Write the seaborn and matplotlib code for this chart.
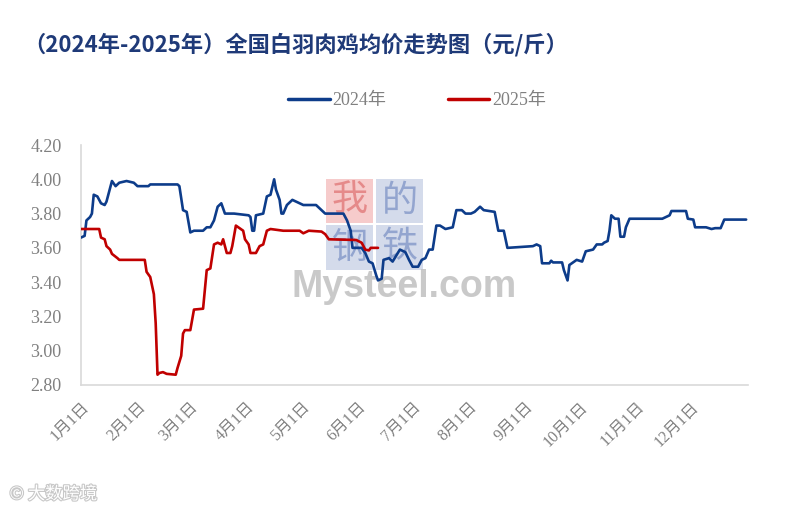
import pandas as pd
import seaborn as sns
import matplotlib.pyplot as plt
import matplotlib.patheffects as pe
from matplotlib.patches import Rectangle

# 2024 white-feather broiler price (yuan/jin)
dates_2024 = ["01-01", "01-03", "01-04", "01-06", "01-07", "01-08", "01-10", "01-12", "01-14", "01-15",
              "01-16", "01-18", "01-20", "01-22", "01-26", "01-30", "02-01", "02-07", "02-08", "02-23",
              "02-24", "02-26", "02-28", "03-01", "03-03", "03-08", "03-10", "03-12", "03-14", "03-16",
              "03-18", "03-20", "03-25", "04-02", "04-03", "04-04", "04-05", "04-06", "04-10", "04-12",
              "04-14", "04-16", "04-17", "04-19", "04-20", "04-21", "04-23", "04-26", "04-30", "05-02",
              "05-09", "05-12", "05-14", "05-24", "05-26", "05-28", "05-29", "06-03", "06-05", "06-07",
              "06-09", "06-11", "06-12", "06-14", "06-15", "06-18", "06-20", "06-24", "06-27", "06-29",
              "07-01", "07-04", "07-06", "07-08", "07-10", "07-12", "07-14", "07-16", "07-19", "07-23",
              "07-25", "07-28", "07-30", "08-02", "08-04", "08-07", "08-09", "08-15", "08-17", "08-20",
              "08-22", "09-05", "09-07", "09-09", "09-10", "09-14", "09-15", "09-16", "09-21", "09-22",
              "09-24", "09-25", "09-29", "10-02", "10-04", "10-08", "10-10", "10-13", "10-14", "10-16",
              "10-17", "10-18", "10-20", "10-22", "10-23", "10-25", "10-26", "10-28", "11-15", "11-17",
              "11-19", "11-20", "11-28", "11-29", "12-02", "12-03", "12-09", "12-12", "12-14", "12-17",
              "12-18", "12-19", "12-31"]
price_2024 = [3.66, 3.67, 3.76, 3.78, 3.80, 3.91, 3.90, 3.86, 3.85, 3.87,
              3.91, 3.99, 3.96, 3.98, 3.99, 3.98, 3.96, 3.96, 3.97, 3.97,
              3.96, 3.82, 3.81, 3.69, 3.70, 3.70, 3.72, 3.72, 3.76, 3.84,
              3.86, 3.80, 3.80, 3.79, 3.78, 3.70, 3.70, 3.79, 3.80, 3.90,
              3.91, 4.00, 3.94, 3.88, 3.80, 3.80, 3.85, 3.88, 3.86, 3.85,
              3.85, 3.82, 3.80, 3.80, 3.76, 3.70, 3.60, 3.60, 3.57, 3.52,
              3.51, 3.44, 3.41, 3.42, 3.53, 3.54, 3.52, 3.59, 3.575, 3.53,
              3.49, 3.49, 3.53, 3.54, 3.59, 3.59, 3.73, 3.73, 3.71, 3.72,
              3.82, 3.82, 3.80, 3.80, 3.81, 3.84, 3.82, 3.81, 3.70, 3.70,
              3.60, 3.61, 3.62, 3.61, 3.51, 3.51, 3.525, 3.515, 3.515, 3.47,
              3.41, 3.50, 3.53, 3.52, 3.58, 3.59, 3.62, 3.62, 3.63, 3.64,
              3.70, 3.79, 3.77, 3.77, 3.665, 3.665, 3.72, 3.77, 3.77, 3.78,
              3.79, 3.815, 3.815, 3.77, 3.765, 3.72, 3.72, 3.71, 3.715, 3.715,
              3.74, 3.765, 3.765]

dates_2025 = ["01-01", "01-11", "01-12", "01-14", "01-15", "01-17", "01-18", "01-21", "01-22", "02-05",
              "02-06", "02-08", "02-10", "02-11", "02-12", "02-13", "02-15", "02-17", "02-22", "02-23",
              "02-25", "02-26", "02-27", "03-01", "03-02", "03-03", "03-08", "03-10", "03-12", "03-14",
              "03-16", "03-18", "03-19", "03-21", "03-23", "03-24", "03-26", "03-28", "03-30", "03-31",
              "04-02", "04-03", "04-06", "04-08", "04-10", "04-12", "04-14", "04-21", "04-30", "05-02",
              "05-05", "05-12", "05-14", "05-16", "05-31", "06-03", "06-05", "06-07", "06-08", "06-12"]
price_2025 = [3.71, 3.71, 3.66, 3.65, 3.61, 3.59, 3.565, 3.54, 3.53, 3.53,
              3.46, 3.43, 3.33, 3.16, 2.86, 2.87, 2.875, 2.865, 2.86, 2.90,
              2.97, 3.10, 3.12, 3.12, 3.18, 3.24, 3.245, 3.47, 3.48, 3.62,
              3.63, 3.62, 3.65, 3.57, 3.57, 3.61, 3.73, 3.715, 3.70, 3.65,
              3.62, 3.57, 3.57, 3.61, 3.62, 3.70, 3.71, 3.70, 3.70, 3.685,
              3.70, 3.695, 3.68, 3.65, 3.646, 3.63, 3.59, 3.585, 3.60, 3.60]

series_names = ["2024年", "2025年"]
tick_labels = [f"{m}月1日" for m in range(1, 13)]

# both years drawn on one shared calendar axis
df = pd.concat([
    pd.DataFrame({"date": pd.to_datetime(["2024-" + d for d in dates_2024]),
                  "price": price_2024, "year": series_names[0]}),
    pd.DataFrame({"date": pd.to_datetime(["2024-" + d for d in dates_2025]),
                  "price": price_2025, "year": series_names[1]}),
])

sns.set_style("white")
plt.rcParams["font.family"] = ["Liberation Serif", "Noto Sans CJK SC"]

fig = plt.figure(figsize=(7.9, 5.11), dpi=100)
ax = fig.add_axes([0.1025, 0.2466, 0.8443, 0.4696])

# Mysteel watermark
wm = [("我", 0, 1, "#f3b5b5", "#e58a8a"), ("的", 1, 1, "#c3cce3", "#93a5cf"),
      ("钢", 0, 0, "#c3cce3", "#93a5cf"), ("铁", 1, 0, "#c3cce3", "#93a5cf")]
for ch, cx, cy, bg, fg in wm:
    x0 = 0.368 + cx * 0.075
    y0 = 0.48 + cy * 0.195
    ax.add_patch(Rectangle((x0, y0), 0.07, 0.185, transform=ax.transAxes,
                           facecolor=bg, edgecolor="none", alpha=0.7, zorder=0))
    ax.text(x0 + 0.035, y0 + 0.093, ch, transform=ax.transAxes, ha="center", va="center",
            fontsize=26, color=fg, family=["Noto Sans CJK SC"], zorder=0.5)
ax.text(0.484, 0.41, "Mysteel.com", transform=ax.transAxes, ha="center", va="center",
        fontsize=27, fontweight="bold", color="#c4c4c4", alpha=0.9,
        family=["Liberation Sans"], zorder=0.6)

palette = {series_names[0]: "#0d3c8a", series_names[1]: "#c00000"}
sns.lineplot(data=df, x="date", y="price", hue="year", palette=palette,
             linewidth=1.9, ax=ax, legend=False, zorder=3)

ax.set_xlim(pd.Timestamp("2024-01-01"), pd.Timestamp("2025-01-01"))
ax.set_ylim(2.8, 4.2)
ax.set_yticks([2.8 + 0.2 * i for i in range(8)])
ax.yaxis.set_major_formatter(plt.FuncFormatter(lambda v, p: f"{v:.2f}"))
ax.set_xticks(pd.date_range("2024-01-01", "2025-01-01", freq="MS"))
ax.set_xticklabels(tick_labels + [""], rotation=45, ha="right", rotation_mode="anchor")
ax.tick_params(axis="x", colors="#d9d9d9", labelcolor="#808080", labelsize=11.5,
               length=5, width=1, direction="out", pad=5)
ax.tick_params(axis="y", colors="#d9d9d9", labelcolor="#808080", labelsize=13,
               length=3, width=1, direction="out", pad=11)
ax.set_xlabel("")
ax.set_ylabel("")
for s in ["top", "right"]:
    ax.spines[s].set_visible(False)
for s in ["left", "bottom"]:
    ax.spines[s].set_color("#d9d9d9")
    ax.spines[s].set_linewidth(1.2)

handles = [plt.Line2D([], [], color=palette[n], linewidth=2.5) for n in series_names]
fig.legend(handles, series_names, loc="center", bbox_to_anchor=(0.528, 0.803), ncol=2,
           frameon=False, fontsize=13, labelcolor="#808080", handlelength=2.3,
           handletextpad=0.15, columnspacing=3.4)

fig.text(0.03, 0.913, "（2024年-2025年）全国白羽肉鸡均价走势图（元/斤）", fontsize=16,
         fontweight="bold", color="#1f3a78", va="center", family=["Noto Sans CJK SC"])
fig.text(0.012, 0.033, "\u00a9 大数跨境", fontsize=12.5, color="white", va="center",
         family=["Noto Sans CJK SC", "DejaVu Sans"],
         path_effects=[pe.withStroke(linewidth=1.6, foreground="#c8c8c8")])

fig.savefig("out.png", dpi=100)
